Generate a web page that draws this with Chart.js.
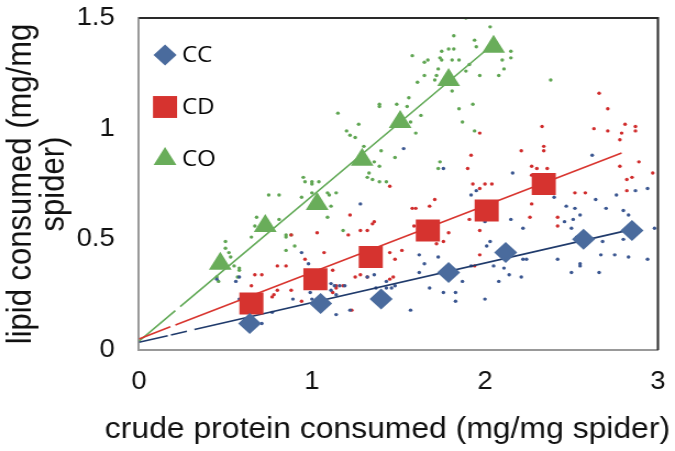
<!DOCTYPE html>
<html><head><meta charset="utf-8">
<script src="https://cdn.jsdelivr.net/npm/chart.js@4.4.1/dist/chart.umd.min.js"></script>
<style>
html,body{margin:0;padding:0;background:#fff;overflow:hidden;}
#wrap{width:614px;height:451px;transform:scaleX(1.0993);transform-origin:0 0;}
</style>
</head><body><div id="wrap"><canvas id="c" width="614" height="451"></canvas></div>
<script>
// ---- data ----
const seriesNames = ['CC', 'CD', 'CO'];
const xTicks = [0, 1, 2, 3];
const yTicks = [0, 0.5, 1, 1.5];
const xTitle = 'crude protein consumed (mg/mg spider)';
const yTitle = ['lipid consumed (mg/mg', 'spider)'];

// group means (large markers)
const ccMeanX = [0.64, 1.05, 1.40, 1.79, 2.12, 2.57, 2.85];
const ccMeanY = [0.12, 0.21, 0.23, 0.35, 0.44, 0.50, 0.54];
const cdMeanX = [0.65, 1.02, 1.34, 1.67, 2.01, 2.34];
const cdMeanY = [0.21, 0.32, 0.42, 0.54, 0.63, 0.75];
const coMeanX = [0.47, 0.73, 1.03, 1.29, 1.51, 1.79, 2.05];
const coMeanY = [0.39, 0.56, 0.66, 0.86, 1.03, 1.22, 1.37];

// fitted lines (end points)
const ccFit = [[0, 0.035], [2.85, 0.545]];
const cdFit = [[0, 0.05], [2.79, 0.89]];
const coFit = [[0, 0.04], [2.03, 1.37]];

// individual observations (small dots)
const ccDots = [[2.40,0.69],[2.64,0.68],[2.76,0.70],[2.87,0.72],[2.94,0.73],[2.47,0.65],[2.52,0.64],[2.55,0.61],[2.70,0.64],[2.80,0.63],
[2.83,0.61],[2.46,0.58],[2.51,0.59],[2.50,0.55],[2.53,0.51],[2.68,0.49],[2.80,0.50],[2.98,0.55],[2.42,0.41],[2.67,0.43],
[2.75,0.43],[2.83,0.42],[2.94,0.41],[2.55,0.39],[2.55,0.38],[2.50,0.35],[2.66,0.35],[1.92,0.70],[1.95,0.72],[2.00,0.58],
[2.15,0.59],[2.22,0.55],[2.03,0.49],[2.01,0.47],[2.05,0.38],[1.92,0.38],[1.62,0.43],[1.65,0.39],[1.73,0.42],[1.62,0.35],
[1.87,0.31],[2.08,0.31],[2.11,0.37],[2.14,0.34],[2.21,0.33],[2.22,0.41],[2.24,0.41],[1.68,0.28],[1.76,0.26],[1.83,0.26],
[1.83,0.22],[2.00,0.23],[1.57,0.18],[1.65,0.50],[1.28,0.66],[0.94,0.44],[0.98,0.39],[1.29,0.38],[1.32,0.33],[1.36,0.34],
[1.11,0.30],[1.13,0.29],[1.16,0.29],[1.19,0.29],[1.11,0.27],[1.14,0.25],[0.99,0.26],[1.05,0.24],[1.00,0.23],[0.89,0.23],
[1.43,0.31],[1.43,0.28],[1.46,0.28],[1.48,0.29],[1.37,0.28],[1.14,0.16],[0.77,0.17],[0.45,0.32],[0.56,0.31],[0.58,0.33],
[0.58,0.23],[0.61,0.18],[0.66,0.24],[0.69,0.24],[0.71,0.12],[1.22,0.18],[1.53,0.91],[1.76,0.82],[2.16,0.80],[2.62,0.88]];

const cdDots = [[2.66,1.16],[2.71,1.09],[2.33,1.01],[2.63,1.00],[2.71,0.99],[2.81,1.02],[2.87,1.01],[2.87,0.99],[2.79,0.98],[2.78,0.95],
[2.34,0.92],[2.34,0.90],[2.27,0.83],[2.30,0.82],[2.36,0.82],[2.78,0.83],[2.89,0.85],[2.97,0.80],[2.85,0.78],[2.82,0.77],
[1.97,0.98],[1.92,0.88],[1.90,0.82],[2.21,0.90],[1.93,0.75],[2.00,0.75],[2.04,0.75],[2.27,0.79],[1.45,0.74],[1.58,0.64],
[1.60,0.64],[1.68,0.65],[1.71,0.68],[1.22,0.61],[1.36,0.58],[1.35,0.57],[2.58,0.71],[2.52,0.71],[2.82,0.72],[2.27,0.66],
[2.26,0.60],[2.42,0.60],[2.42,0.56],[1.03,0.53],[1.21,0.52],[1.28,0.54],[1.32,0.54],[1.07,0.44],[0.96,0.41],[0.85,0.38],
[0.80,0.38],[1.12,0.36],[1.25,0.33],[1.28,0.34],[1.45,0.44],[1.48,0.41],[1.45,0.32],[1.47,0.33],[1.32,0.33],[1.14,0.29],
[1.14,0.28],[1.18,0.29],[0.88,0.27],[0.80,0.27],[0.78,0.25],[0.77,0.24],[0.94,0.22],[1.12,0.26],[1.23,0.18],[0.67,0.34],
[0.71,0.34],[0.65,0.29],[0.69,0.22],[1.97,0.73],[1.59,0.56],[1.91,0.59],[1.97,0.54],[1.79,0.53],[1.72,0.48],[1.76,0.49],
[1.52,0.45],[1.97,0.43],[1.94,0.38],[0.88,0.52]];

const coDots = [[1.89,1.50],[2.03,1.46],[1.82,1.42],[1.58,1.33],[1.75,1.35],[1.79,1.36],[1.82,1.36],[1.94,1.40],[1.95,1.37],[1.74,1.32],
[1.75,1.31],[1.65,1.30],[1.67,1.31],[1.81,1.31],[1.85,1.31],[1.91,1.29],[1.73,1.27],[1.65,1.24],[1.71,1.22],[1.72,1.24],
[1.61,1.21],[1.89,1.26],[1.97,1.24],[2.15,1.35],[2.15,1.32],[2.10,1.31],[2.11,1.27],[2.08,1.24],[1.81,1.17],[1.56,1.14],
[1.55,1.10],[1.63,1.06],[1.93,1.11],[1.85,1.09],[1.87,1.03],[1.57,1.03],[1.60,0.98],[1.94,0.99],[1.74,0.85],[1.73,0.82],
[1.15,1.07],[1.27,1.02],[1.20,0.99],[1.22,0.97],[1.25,0.96],[1.39,1.11],[1.39,1.10],[1.49,1.11],[1.40,0.90],[1.48,0.87],
[1.30,0.92],[1.36,0.85],[1.39,0.83],[1.33,0.80],[1.32,0.78],[1.35,0.77],[1.39,0.76],[1.43,0.76],[0.95,0.78],[1.00,0.76],
[1.04,0.76],[0.96,0.76],[1.09,0.71],[1.14,0.71],[1.11,0.65],[1.09,0.60],[0.75,0.70],[0.68,0.60],[0.67,0.56],[0.65,0.51],
[0.50,0.49],[0.50,0.46],[0.52,0.44],[0.53,0.42],[0.55,0.38],[0.58,0.37],[0.58,0.36],[0.57,0.33],[0.45,0.33],[0.46,0.31],
[0.81,0.70],[0.81,0.59],[0.85,0.52],[0.85,0.51],[0.88,0.52],[0.90,0.47],[0.85,0.45],[0.94,0.69],[1.00,0.71],[1.10,0.70],
[1.18,0.54],[1.00,0.75],[2.38,1.22]];

// ---- styling ----
const markerColors = ['#4a6b9d', '#d6332f', '#69ad5a'];
const dotColors = ['#3a5690', '#d02c2c', '#5fa552'];
const lineColors = ['#1f3a6b', '#d8342e', '#63aa58'];
const lineDashes = [[27, 3, 15, 7, 2000], [31, 5, 2000], [45, 6, 2000]];
const markerStyles = ['rectRot', 'rect', 'triangle'];
const markerRadius = [10.5, 15.5, 12];

const toPts = (xs, ys) => xs.map((x, i) => ({x: x, y: ys[i]}));
const pairPts = arr => arr.map(p => ({x: p[0], y: p[1]}));

const means = [toPts(ccMeanX, ccMeanY), toPts(cdMeanX, cdMeanY), toPts(coMeanX, coMeanY)];
const fits = [pairPts(ccFit), pairPts(cdFit), pairPts(coFit)];
const dots = [pairPts(ccDots), pairPts(cdDots), pairPts(coDots)];

const datasets = [];
for (let i = 0; i < 3; i++) {
  datasets.push({type: 'scatter', label: seriesNames[i] + ' obs', data: dots[i], pointStyle: 'circle',
    pointRadius: 1.7, pointBackgroundColor: dotColors[i], pointBorderWidth: 0, order: 3});
}
for (let i = 0; i < 3; i++) {
  datasets.push({type: 'line', label: seriesNames[i] + ' fit', data: fits[i], borderColor: lineColors[i],
    borderWidth: 1.6, borderDash: lineDashes[i], pointRadius: 0, fill: false, order: 2});
}
for (let i = 0; i < 3; i++) {
  datasets.push({type: 'scatter', label: seriesNames[i], data: means[i], pointStyle: markerStyles[i],
    pointRadius: markerRadius[i], pointBackgroundColor: markerColors[i], pointBorderWidth: 0, order: 1, isMean: true});
}

const fam = '"Liberation Sans", Arial, sans-serif';
const axisFont = {family: fam, size: 25};
const yTitleFont = {family: fam, size: 31, lineHeight: 0.97};

const framePlugin = {
  id: 'frame',
  afterDraw(chart) {
    const {ctx, chartArea: a} = chart;
    ctx.save();
    ctx.strokeStyle = '#2a2a2a';
    ctx.lineWidth = 2;
    ctx.beginPath();
    ctx.moveTo(a.left, a.top);
    ctx.lineTo(a.right, a.top);
    ctx.lineTo(a.right, a.bottom);
    ctx.stroke();
    // x-axis title (drawn here so it is not squeezed to the plot width)
    ctx.fillStyle = '#111';
    ctx.font = '29px ' + fam;
    ctx.textAlign = 'center';
    ctx.textBaseline = 'middle';
    ctx.fillText(xTitle, (a.left + a.right) / 2 - 10, 430);
    // legend drawn inside the plot area
    const rows = [37, 89, 141];
    ctx.font = '22px "Open Sans", sans-serif';
    ctx.textAlign = 'left';
    chart.data.datasets.filter(d => d.isMean).forEach((d, k) => {
      const cx = a.left + 23.7, cy = a.top + rows[k];
      ctx.fillStyle = d.pointBackgroundColor;
      Chart.helpers.drawPoint(ctx, {pointStyle: d.pointStyle, radius: d.pointRadius, rotation: 0, borderWidth: 0}, cx, cy);
      ctx.fillStyle = '#000';
      ctx.fillText(d.label, a.left + 39, cy + 1);
    });
    ctx.restore();
  }
};

new Chart(document.getElementById('c'), {
  data: {datasets: datasets},
  options: {
    responsive: false,
    animation: false,
    devicePixelRatio: 1,
    layout: {padding: {top: 18, right: 11, bottom: 0, left: 0}},
    plugins: {legend: {display: false}, tooltip: {enabled: false}},
    scales: {
      x: {type: 'linear', min: 0, max: 3,
        afterBuildTicks: s => { s.ticks = xTicks.map(v => ({value: v})); },
        afterFit: s => { s.height = 101; s.paddingLeft = 0; s.paddingRight = 0; },
        grid: {display: false, drawTicks: false},
        border: {display: true, color: '#999', width: 2},
        ticks: {font: axisFont, color: '#111', padding: 17, callback: v => String(v)},
        title: {display: false}
      },
      y: {type: 'linear', min: 0, max: 1.5,
        afterBuildTicks: s => { s.ticks = yTicks.map(v => ({value: v})); },
        afterFit: s => { s.width = 126.4; s.paddingTop = 0; s.paddingBottom = 0; },
        grid: {display: false, drawTicks: false},
        border: {display: true, color: '#999', width: 2},
        ticks: {font: axisFont, color: '#111', padding: 22, callback: v => String(v)},
        title: {display: true, text: yTitle, font: yTitleFont, color: '#111', padding: {top: 4, bottom: 0}}
      }
    }
  },
  plugins: [framePlugin]
});
</script>
</body></html>
